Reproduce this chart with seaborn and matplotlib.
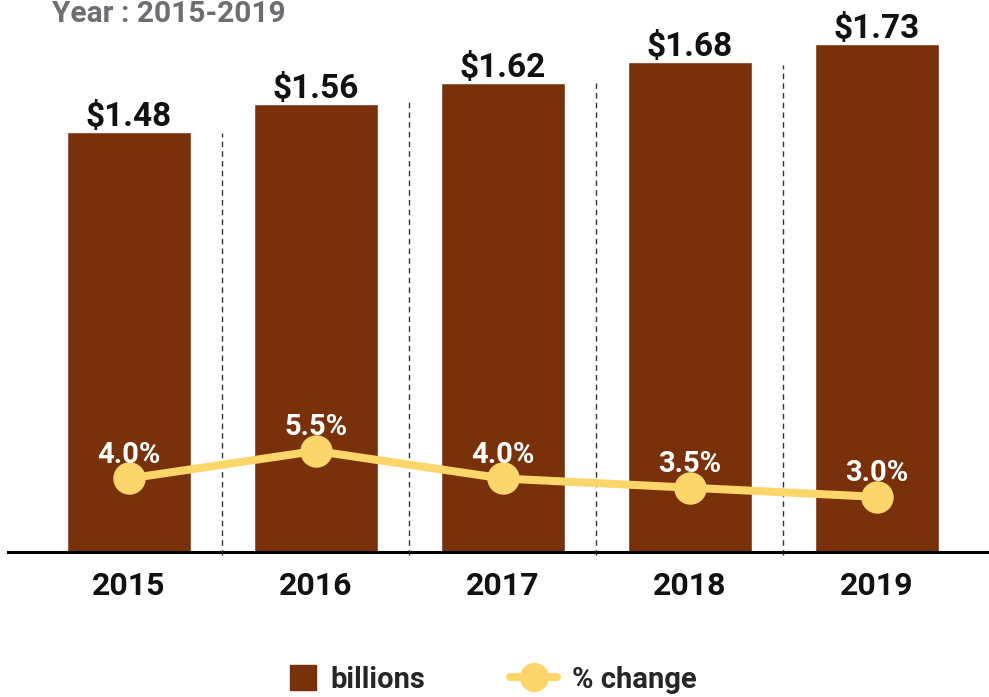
import matplotlib
matplotlib.use("Agg")
import matplotlib.pyplot as plt
import seaborn as sns
from matplotlib.patches import Patch, Rectangle
from matplotlib.lines import Line2D
from matplotlib.legend_handler import HandlerPatch

years = ["2015", "2016", "2017", "2018", "2019"]
billions = [1.48, 1.56, 1.62, 1.68, 1.73]
pct_change = [4.0, 5.5, 4.0, 3.5, 3.0]
bar_labels = ["$1.48", "$1.56", "$1.62", "$1.68", "$1.73"]
pct_labels = ["4.0%", "5.5%", "4.0%", "3.5%", "3.0%"]
sep_heights = [1.477, 1.577, 1.619, 1.670]

BAR = "#78310A"
YEL = "#FDD66B"
FONT = "Roboto"

sns.set_theme(style="white")
plt.rcParams["font.family"] = [FONT, "DejaVu Sans"]

fig = plt.figure(figsize=(9.89, 6.97), dpi=100)
ax = fig.add_axes([0.008, 0.208, 0.992, 0.778])

sns.barplot(x=years, y=billions, color=BAR, width=0.66, saturation=1, ax=ax)
ax.set_xlim(-0.647, 4.6)
ax.set_ylim(0.287, 1.827)

for i, (v, lab) in enumerate(zip(billions, bar_labels)):
    ax.annotate(lab, (i, v), xytext=(0, -1), textcoords="offset points",
                ha="center", va="bottom", fontsize=24, fontweight="bold", color="#111111")

for i, h in enumerate(sep_heights):
    ax.plot([i + 0.5, i + 0.5], [0.278, h], ls=(0, (4, 3)), color="#333333", lw=1,
            clip_on=False, zorder=0)

for s in ["top", "right", "left"]:
    ax.spines[s].set_visible(False)
ax.spines["bottom"].set_color("black")
ax.spines["bottom"].set_linewidth(2.2)
ax.set_yticks([])
ax.tick_params(axis="x", length=0, pad=14, labelsize=23)
for t in ax.get_xticklabels():
    t.set_fontweight("bold")
    t.set_color("#111111")
ax.set_xlabel("")
ax.set_ylabel("")

ax2 = ax.twinx()
sns.pointplot(x=years, y=pct_change, color=YEL, markers="o", linestyles="-",
              ax=ax2, markersize=19, linewidth=5.8)
ax2.set_ylim(0, 29.5)
ax2.set_xlim(-0.647, 4.6)
ax2.set_yticks([])
for s in ["top", "right", "left", "bottom"]:
    ax2.spines[s].set_visible(False)
ax2.set_ylabel("")

for i, (v, lab) in enumerate(zip(pct_change, pct_labels)):
    ax2.annotate(lab, (i, v), xytext=(0, 17), textcoords="offset points",
                 ha="center", va="center", fontsize=21, fontweight="bold", color="white")

fig.text(52 / 989, 1 - 22 / 697, "Year : 2015-2019", fontsize=21.5, fontweight="bold",
         color="#6D6E71", ha="left", va="baseline")


def square_patch(legend, orig_handle, xdescent, ydescent, width, height, fontsize):
    s = height
    return Rectangle((xdescent + width - s, -ydescent), s, s)


handles = [Patch(facecolor=BAR, edgecolor=BAR),
           Line2D([0], [0], color=YEL, lw=5.8, marker="o", markersize=20)]
leg = fig.legend(handles, ["billions", "% change"], loc="center", bbox_to_anchor=(0.488, 0.025),
                 ncol=2, frameon=False, prop={"family": FONT, "weight": "bold", "size": 21},
                 handlelength=1.6, handleheight=0.95, columnspacing=2.93, handletextpad=0.5,
                 handler_map={Patch: HandlerPatch(patch_func=square_patch)})

fig.savefig("out.png", dpi=100)
